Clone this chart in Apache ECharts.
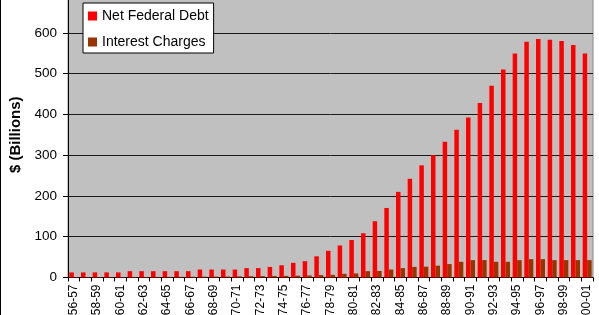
<!DOCTYPE html>
<html>
<head>
<meta charset="utf-8">
<script src="https://cdn.jsdelivr.net/npm/echarts@6/dist/echarts.min.js"></script>
<style>
html,body{margin:0;padding:0;background:#fff;}
#chart{width:599px;height:315px;}
</style>
</head>
<body>
<div id="chart"></div>
<script>
const categories = ["56-57","57-58","58-59","59-60","60-61","61-62","62-63","63-64","64-65","65-66","66-67","67-68","68-69","69-70","70-71","71-72","72-73","73-74","74-75","75-76","76-77","77-78","78-79","79-80","80-81","81-82","82-83","83-84","84-85","85-86","86-87","87-88","88-89","89-90","90-91","91-92","92-93","93-94","94-95","95-96","96-97","97-98","98-99","99-00","00-01"];
const netFederalDebt = [12.5,12.5,12.5,12.5,12.5,15.5,15.5,15.5,15.5,15.5,15.5,19.5,19.5,19.5,19.5,23,23,26,30,36,40,52,65.5,78.5,92,108.5,138,170.5,210,242,275,300,333,362,392,428,470,510,549,578,585,583,580,570,549];
const interestCharges = [1,1,1,1,1.2,1.2,1.3,1.4,1.5,1.6,1.8,2,2.2,2.5,3,3.2,3.5,3.8,4,4.5,5,6,6.5,9,10,15.5,16,19.5,23,26,26.5,29,33,38.5,42.6,42.6,38.5,38.5,42.6,45,45,42.6,42.6,42.6,42.6];
const yTicks = [0,100,200,300,400,500,600,700];
const seriesNames = ["Net Federal Debt","Interest Charges"];

const chart = echarts.init(document.getElementById('chart'), null, {renderer:'canvas'});
const font = '"Liberation Sans", Arial, sans-serif';
chart.setOption({
  animation:false,
  backgroundColor:'#ffffff',
  grid:{left:68,right:6,top:-8,bottom:37.5,show:true,backgroundColor:'#c0c0c0',borderColor:'#8a8a8a',borderWidth:1,outerBoundsMode:'none',containLabel:false},
  legend:{
    data:seriesNames,
    orient:'vertical',
    left:83, top:3,
    backgroundColor:'#ffffff',
    borderColor:'#000000', borderWidth:1,
    padding:[5,5,3,5],
    itemGap:10,
    itemWidth:9, itemHeight:9,
    icon:'rect',
    textStyle:{fontFamily:font,fontSize:14,color:'#000',lineHeight:16}
  },
  xAxis:{
    type:'category',
    data:categories,
    boundaryGap:true,
    axisLine:{lineStyle:{color:'#000',width:1}},
    axisTick:{show:true,interval:0,length:4,lineStyle:{color:'#000'}},
    axisLabel:{interval:1,rotate:90,margin:7,fontFamily:font,fontSize:12,color:'#000'}
  },
  yAxis:{
    type:'value',
    min:yTicks[0], max:yTicks[yTicks.length-1], interval:100,
    name:'$ (Billions)',
    nameLocation:'middle',
    nameGap:42,
    nameTextStyle:{fontFamily:font,fontSize:15,fontWeight:'bold',color:'#000'},
    axisLine:{show:true,lineStyle:{color:'#000',width:1}},
    axisTick:{show:true,length:5,lineStyle:{color:'#000'}},
    axisLabel:{margin:11,fontFamily:font,fontSize:13.5,color:'#000'},
    splitLine:{show:true,lineStyle:{color:'#1a1a1a',width:1}}
  },
  series:[
    {name:seriesNames[0],type:'bar',data:netFederalDebt,barWidth:4.5,barGap:'0%',itemStyle:{color:'#ff0000'}},
    {name:seriesNames[1],type:'bar',data:interestCharges,barWidth:4.5,barGap:'0%',itemStyle:{color:'#993300'}}
  ],
  graphic:[
    {type:'line',shape:{x1:0.5,y1:0,x2:0.5,y2:315},style:{stroke:'#000',lineWidth:1},silent:true}
  ]
});
</script>
</body>
</html>
